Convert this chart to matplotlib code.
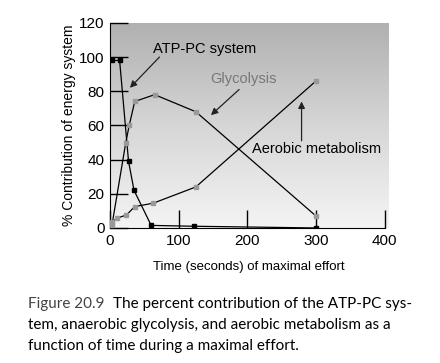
import numpy as np
import matplotlib.pyplot as plt
from matplotlib.colors import LinearSegmentedColormap

plt.rcParams["font.family"] = "Liberation Sans"

# values
atp_t = [3, 14, 27, 35, 60, 122, 300]
atp_pct = [98, 98, 39, 22, 1.5, 1, 0]
gly_t = [3, 23, 28, 36, 65, 125, 300]
gly_pct = [2, 50, 60, 74, 78, 68, 7]
aer_t = [3, 10, 24, 36, 63, 125, 300]
aer_pct = [3.5, 5.7, 7.6, 12.5, 14.5, 24, 86]

xticks = [0, 100, 200, 300, 400]
yticks = [0, 20, 40, 60, 80, 100, 120]

fig = plt.figure(figsize=(4.4, 3.63), dpi=100)
ax = fig.add_axes([0.25, 0.372, 0.632, 0.565])

# grey background fading to near white at the bottom
bg = LinearSegmentedColormap.from_list("bg", ["#f4f4f4", "#d6d6d6", "#b0b0b0"])
grad = np.linspace(0, 1, 256).reshape(-1, 1)
ax.imshow(grad, extent=[0, 405, 0, 120], aspect="auto", origin="lower",
          cmap=bg, zorder=0)

ax.plot(atp_t, atp_pct, color="black", lw=0.9, marker="s", ms=3.5,
        mfc="black", mec="black", zorder=3)
ax.plot(gly_t, gly_pct, color="black", lw=0.9, marker="s", ms=3.5,
        mfc="#999999", mec="#999999", zorder=3)
ax.plot(aer_t, aer_pct, color="black", lw=0.9, marker="s", ms=3.5,
        mfc="#999999", mec="#999999", zorder=3)

ax.set_xlim(0, 405)
ax.set_ylim(0, 120)
ax.set_xticks(xticks)
ax.set_yticks(yticks)
ax.tick_params(direction="in", length=13, width=1, labelsize=11, pad=4)
ax.spines["top"].set_visible(False)
ax.spines["right"].set_visible(False)
ax.spines["bottom"].set_bounds(0, 400)

ax.set_xlabel("Time (seconds) of maximal effort", fontsize=9.5, labelpad=10)
ax.set_ylabel("% Contribution of energy system", fontsize=10, labelpad=2)

arrow = dict(arrowstyle="-|>", color="#222222", lw=0.9, mutation_scale=10,
             shrinkA=0, shrinkB=0)
ax.text(138, 105, "ATP-PC system", ha="center", va="center", fontsize=10.5)
ax.annotate("", xy=(29, 82), xytext=(72, 100), arrowprops=arrow)
ax.text(194, 87, "Glycolysis", ha="center", va="center", fontsize=10.5,
        color="#777777")
ax.annotate("", xy=(147, 66), xytext=(188, 81), arrowprops=arrow)
ax.text(301, 46, "Aerobic metabolism", ha="center", va="center",
        fontsize=10.5)
ax.annotate("", xy=(279, 74), xytext=(279, 51), arrowprops=arrow)

# caption under the chart
cap = ["The percent contribution of the ATP-PC sys-",
       "tem, anaerobic glycolysis, and aerobic metabolism as a",
       "function of time during a maximal effort."]
fig.canvas.draw()
r = fig.canvas.get_renderer()
head = fig.text(0.064, 0.152, "Figure 20.9", fontsize=11, family="Lato",
                color="#444444", va="baseline")
w = head.get_window_extent(r).width / fig.bbox.width
fig.text(0.064 + w + 0.02, 0.152, cap[0], fontsize=11, family="Lato",
         va="baseline")
fig.text(0.064, 0.094, cap[1], fontsize=11, family="Lato", va="baseline")
fig.text(0.064, 0.036, cap[2], fontsize=11, family="Lato", va="baseline")

fig.savefig("out.png", dpi=100)
